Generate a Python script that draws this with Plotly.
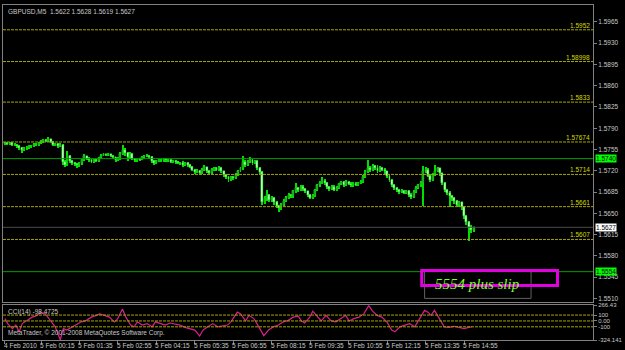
import plotly.graph_objects as go

# ---------------- data ----------------
bar_index = list(range(196))

closes = [1.5765,1.5764,1.5766,1.5762,1.5763,1.5760,1.5758,1.5754,1.5757,1.5758,
          1.5760,1.5761,1.5763,1.5762,1.5765,1.5768,1.5770,1.5769,1.5772,1.5768,
          1.5762,1.5764,1.5761,1.5763,1.5735,1.5730,1.5745,1.5736,1.5733,1.5731,
          1.5729,1.5732,1.5738,1.5744,1.5740,1.5737,1.5735,1.5738,1.5736,1.5741,
          1.5745,1.5747,1.5746,1.5747,1.5745,1.5742,1.5738,1.5740,1.5748,1.5755,
          1.5750,1.5742,1.5748,1.5740,1.5737,1.5739,1.5738,1.5742,1.5744,1.5745,
          1.5743,1.5736,1.5733,1.5735,1.5738,1.5737,1.5739,1.5737,1.5738,1.5735,
          1.5736,1.5734,1.5733,1.5732,1.5730,1.5733,1.5729,1.5727,1.5722,1.5718,
          1.5720,1.5717,1.5722,1.5726,1.5720,1.5717,1.5721,1.5724,1.5722,1.5725,
          1.5719,1.5713,1.5710,1.5706,1.5710,1.5708,1.5714,1.5720,1.5724,1.5735,
          1.5730,1.5735,1.5738,1.5733,1.5736,1.5725,1.5718,1.5668,1.5675,1.5680,
          1.5672,1.5676,1.5668,1.5662,1.5658,1.5664,1.5670,1.5676,1.5680,1.5678,
          1.5686,1.5692,1.5688,1.5694,1.5690,1.5686,1.5680,1.5676,1.5679,1.5688,
          1.5696,1.5700,1.5704,1.5700,1.5693,1.5690,1.5694,1.5689,1.5692,1.5698,
          1.5701,1.5697,1.5702,1.5699,1.5696,1.5699,1.5697,1.5700,1.5702,1.5710,
          1.5718,1.5725,1.5722,1.5728,1.5724,1.5720,1.5725,1.5722,1.5719,1.5712,
          1.5705,1.5697,1.5692,1.5688,1.5685,1.5687,1.5684,1.5686,1.5680,1.5677,
          1.5685,1.5692,1.5696,1.5700,1.5720,1.5722,1.5712,1.5705,1.5714,1.5720,
          1.5724,1.5716,1.5700,1.5688,1.5684,1.5678,1.5675,1.5670,1.5664,1.5668,
          1.5660,1.5645,1.5635,1.5628,1.5622,1.5627]

opens = [1.5764,1.5765,1.5764,1.5766,1.5762,1.5763,1.5760,1.5758,1.5754,1.5757,
         1.5758,1.5760,1.5761,1.5763,1.5762,1.5765,1.5768,1.5770,1.5769,1.5772,
         1.5768,1.5762,1.5764,1.5761,1.5763,1.5735,1.5730,1.5745,1.5736,1.5733,
         1.5731,1.5729,1.5732,1.5738,1.5744,1.5740,1.5737,1.5735,1.5738,1.5736,
         1.5741,1.5745,1.5747,1.5746,1.5747,1.5745,1.5742,1.5738,1.5740,1.5748,
         1.5755,1.5750,1.5742,1.5748,1.5740,1.5737,1.5739,1.5738,1.5742,1.5744,
         1.5745,1.5743,1.5736,1.5733,1.5735,1.5738,1.5737,1.5739,1.5737,1.5738,
         1.5735,1.5736,1.5734,1.5733,1.5732,1.5730,1.5733,1.5729,1.5727,1.5722,
         1.5718,1.5720,1.5717,1.5722,1.5726,1.5720,1.5717,1.5721,1.5724,1.5722,
         1.5725,1.5719,1.5713,1.5710,1.5706,1.5710,1.5708,1.5714,1.5720,1.5724,
         1.5735,1.5730,1.5735,1.5738,1.5733,1.5736,1.5725,1.5718,1.5668,1.5675,
         1.5680,1.5672,1.5676,1.5668,1.5662,1.5658,1.5664,1.5670,1.5676,1.5680,
         1.5678,1.5686,1.5692,1.5688,1.5694,1.5690,1.5686,1.5680,1.5676,1.5679,
         1.5688,1.5696,1.5700,1.5704,1.5700,1.5693,1.5690,1.5694,1.5689,1.5692,
         1.5698,1.5701,1.5697,1.5702,1.5699,1.5696,1.5699,1.5697,1.5700,1.5702,
         1.5710,1.5718,1.5725,1.5722,1.5728,1.5724,1.5720,1.5725,1.5722,1.5719,
         1.5712,1.5705,1.5697,1.5692,1.5688,1.5685,1.5687,1.5684,1.5686,1.5680,
         1.5677,1.5685,1.5692,1.5696,1.5700,1.5720,1.5722,1.5712,1.5705,1.5714,
         1.5720,1.5724,1.5716,1.5700,1.5688,1.5684,1.5678,1.5675,1.5670,1.5664,
         1.5668,1.5660,1.5645,1.5635,1.5628,1.5622]

highs = [1.5767,1.5767,1.5768,1.5767,1.5765,1.5764,1.5762,1.5759,1.5759,1.5760,
         1.5762,1.5763,1.5765,1.5765,1.5767,1.5770,1.5772,1.5772,1.5775,1.5773,
         1.5769,1.5766,1.5765,1.5765,1.5764,1.5737,1.5752,1.5746,1.5738,1.5735,
         1.5733,1.5734,1.5740,1.5748,1.5745,1.5742,1.5739,1.5740,1.5740,1.5743,
         1.5747,1.5749,1.5748,1.5749,1.5748,1.5746,1.5743,1.5742,1.5751,1.5763,
         1.5757,1.5751,1.5751,1.5749,1.5741,1.5741,1.5741,1.5744,1.5746,1.5747,
         1.5746,1.5744,1.5737,1.5737,1.5740,1.5740,1.5741,1.5740,1.5740,1.5739,
         1.5738,1.5737,1.5736,1.5735,1.5736,1.5735,1.5734,1.5731,1.5728,1.5723,
         1.5723,1.5721,1.5725,1.5729,1.5727,1.5721,1.5724,1.5727,1.5726,1.5728,
         1.5726,1.5720,1.5715,1.5711,1.5712,1.5712,1.5716,1.5722,1.5727,1.5744,
         1.5738,1.5737,1.5742,1.5739,1.5738,1.5737,1.5726,1.5719,1.5678,1.5688,
         1.5682,1.5679,1.5677,1.5670,1.5664,1.5667,1.5673,1.5679,1.5684,1.5682,
         1.5689,1.5700,1.5694,1.5697,1.5696,1.5692,1.5687,1.5682,1.5682,1.5690,
         1.5699,1.5703,1.5709,1.5706,1.5701,1.5695,1.5697,1.5696,1.5695,1.5700,
         1.5704,1.5703,1.5705,1.5704,1.5701,1.5701,1.5701,1.5702,1.5705,1.5713,
         1.5722,1.5737,1.5728,1.5731,1.5730,1.5729,1.5728,1.5727,1.5724,1.5720,
         1.5713,1.5707,1.5699,1.5694,1.5690,1.5690,1.5689,1.5689,1.5688,1.5683,
         1.5688,1.5695,1.5699,1.5703,1.5728,1.5726,1.5724,1.5714,1.5717,1.5730,
         1.5727,1.5725,1.5717,1.5702,1.5690,1.5686,1.5680,1.5677,1.5672,1.5671,
         1.5669,1.5661,1.5647,1.5638,1.5630,1.5628]

lows = [1.5762,1.5762,1.5763,1.5760,1.5760,1.5758,1.5755,1.5750,1.5752,1.5755,
        1.5756,1.5758,1.5759,1.5760,1.5760,1.5764,1.5766,1.5767,1.5768,1.5766,
        1.5760,1.5760,1.5758,1.5759,1.5730,1.5726,1.5728,1.5733,1.5730,1.5728,
        1.5724,1.5727,1.5730,1.5736,1.5737,1.5734,1.5732,1.5733,1.5734,1.5735,
        1.5740,1.5744,1.5744,1.5744,1.5743,1.5740,1.5735,1.5736,1.5738,1.5746,
        1.5745,1.5736,1.5740,1.5737,1.5734,1.5735,1.5736,1.5737,1.5740,1.5742,
        1.5740,1.5733,1.5729,1.5731,1.5734,1.5735,1.5735,1.5735,1.5735,1.5733,
        1.5733,1.5731,1.5731,1.5729,1.5727,1.5728,1.5726,1.5724,1.5719,1.5714,
        1.5716,1.5713,1.5715,1.5720,1.5717,1.5714,1.5715,1.5719,1.5719,1.5720,
        1.5716,1.5710,1.5707,1.5702,1.5704,1.5705,1.5706,1.5712,1.5718,1.5722,
        1.5727,1.5728,1.5733,1.5730,1.5731,1.5722,1.5714,1.5664,1.5665,1.5670,
        1.5668,1.5669,1.5664,1.5658,1.5652,1.5655,1.5662,1.5668,1.5674,1.5675,
        1.5676,1.5684,1.5685,1.5686,1.5687,1.5683,1.5677,1.5673,1.5674,1.5677,
        1.5686,1.5694,1.5698,1.5697,1.5690,1.5686,1.5688,1.5686,1.5687,1.5690,
        1.5696,1.5694,1.5695,1.5696,1.5693,1.5694,1.5695,1.5695,1.5698,1.5700,
        1.5708,1.5716,1.5718,1.5719,1.5721,1.5717,1.5718,1.5719,1.5715,1.5708,
        1.5701,1.5694,1.5688,1.5685,1.5682,1.5683,1.5681,1.5682,1.5677,1.5674,
        1.5675,1.5683,1.5690,1.5694,1.5662,1.5716,1.5709,1.5701,1.5703,1.5712,
        1.5718,1.5712,1.5697,1.5685,1.5680,1.5660,1.5671,1.5666,1.5660,1.5661,
        1.5656,1.5641,1.5630,1.5605,1.5618,1.5619]

cci_bar = [0,1.1,3.1,4.5,5.9,7.2,9.3,11.3,13.4,14.8,16.8,18.9,20.9,23.0,24.3,25.7,27.7,29.8,
           31.8,33.9,35.9,38.0,39.3,41.4,43.4,45.5,46.9,48.9,50.3,52.3,53.7,55.1,57.1,59.2,
           61.2,62.6,64.6,66.7,68.7,70.8,72.8,74.9,76.9,79.0,81.0,82.4,84.4,86.5,88.5,90.6,
           92.6,94.0,95.4,96.7,98.1,100.1,101.5,103.6,105.6,107.7,109.7,111.7,113.8,115.8,
           117.9,119.9,122.0,123.4,124.7,126.8,128.1,129.5,131.6,133.6,135.7,137.7,139.8,
           141.8,143.2,145.2,147.3,149.3,151.4,152.7,154.8,156.8,158.9,160.9,162.3,164.3,
           166.4,168.4,170.5,172.5,174.6,176.0,177.3,178.7,180.7,182.8,184.8,186.9,188.9,
           191.0,193.0,194.4]
cci_val = [40,-45,-130,-70,-185,-45,10,65,95,150,120,0,-100,-320,-130,-155,-110,-70,
           -15,10,65,95,120,95,65,-15,40,205,65,-70,-100,-15,-70,-45,
           -100,-15,-45,-70,-35,-55,-70,-110,-130,-155,-255,-155,-100,-45,-100,-90,
           -70,-15,65,150,120,0,95,40,-100,-250,-155,-100,-70,-15,
           10,65,80,0,-35,65,165,95,0,95,0,-15,40,
           95,0,40,65,120,262,180,95,65,-15,-155,-185,-100,
           -70,-45,-100,40,180,150,95,180,40,-100,-110,-90,-110,
           -130,-110,-98]

level_prices = [1.5952, 1.58998, 1.5833, 1.57674, 1.5714, 1.5661, 1.5607]
level_labels = ["1.5952", "1.58998", "1.5833", "1.57674", "1.5714", "1.5661", "1.5607"]
green_levels = [1.5740, 1.5554]
green_labels = ["1.5740", "1.5554"]
bid_price = 1.5627
bid_label = "1.5627"

price_ticks = [1.5965, 1.5930, 1.5895, 1.5860, 1.5825, 1.5790, 1.5755,
               1.5720, 1.5685, 1.5650, 1.5615, 1.5580, 1.5545, 1.5510]
time_tick_idx = [0, 15, 31, 47, 63, 79, 95, 111, 127, 143, 159, 175, 191]
time_tick_text = ["4 Feb 2010", "5 Feb 00:15", "5 Feb 01:35", "5 Feb 02:55", "5 Feb 04:15",
                  "5 Feb 05:35", "5 Feb 06:55", "5 Feb 08:15", "5 Feb 09:35", "5 Feb 10:55",
                  "5 Feb 12:15", "5 Feb 13:35", "5 Feb 14:55"]
cci_ticks = [266.43, 100, 0, -100, -324.141]
cci_tick_text = ["266.43", "100", "0.00", "-100", "-324.141"]

# ---------------- styling ----------------
BG = "#000000"
FG = "#c8c8c8"
GRID = "#808080"
YEL = "#a6a600"
FONT = "Liberation Sans"
BULL = "#2f9a2f"
BEAR = "#c8ffc8"
WICK = "#00e000"

fig = go.Figure()

# wicks (high-low range) and bodies (open-close range), drawn as floating bars
fig.add_trace(go.Bar(
    x=bar_index, base=lows, y=[h - l for h, l in zip(highs, lows)],
    width=0.4, marker=dict(color=WICK, line=dict(width=0)),
    xaxis="x", yaxis="y", showlegend=False, hoverinfo="skip"))
fig.add_trace(go.Bar(
    x=bar_index, base=[min(o, c) for o, c in zip(opens, closes)],
    y=[max(abs(c - o), 0.00006) for o, c in zip(opens, closes)],
    width=0.8,
    marker=dict(color=[BULL if c >= o else BEAR for o, c in zip(opens, closes)],
                line=dict(color=WICK, width=0.4)),
    xaxis="x", yaxis="y", showlegend=False, hoverinfo="skip"))

fig.add_trace(go.Scatter(
    x=cci_bar, y=cci_val, mode="lines",
    line=dict(color="#d8208e", width=1.2),
    xaxis="x2", yaxis="y2", showlegend=False, hoverinfo="skip"))

shapes = []
annotations = []

for p, lab in zip(level_prices, level_labels):
    shapes.append(dict(type="line", xref="paper", yref="y", x0=0, x1=1, y0=p, y1=p,
                       line=dict(color=YEL, width=1, dash="3px,1px")))
    annotations.append(dict(xref="paper", yref="y", x=1, y=p, text=lab, showarrow=False,
                            xanchor="right", yanchor="bottom", xshift=-1, yshift=-1,
                            font=dict(family=FONT, size=6.5, color="#d8d800")))

for p in green_levels:
    shapes.append(dict(type="line", xref="paper", yref="y", x0=0, x1=1, y0=p, y1=p,
                       line=dict(color="#00a000", width=1)))
shapes.append(dict(type="line", xref="paper", yref="y", x0=0, x1=1, y0=bid_price, y1=bid_price,
                   line=dict(color="#4a4a4a", width=1)))

for p, lab in zip(green_levels, green_labels):
    annotations.append(dict(xref="paper", yref="y", x=1, y=p, text=lab, showarrow=False,
                            xanchor="left", yanchor="middle", xshift=2,
                            bgcolor="#00ff00", borderpad=0,
                            font=dict(family=FONT, size=6.5, color="#000000")))
annotations.append(dict(xref="paper", yref="y", x=1, y=bid_price, text=bid_label, showarrow=False,
                        xanchor="left", yanchor="middle", xshift=2,
                        bgcolor="#ffffff", borderpad=0,
                        font=dict(family=FONT, size=6.5, color="#000000")))

# CCI reference levels
for v in [100, 0, -100]:
    shapes.append(dict(type="line", xref="paper", yref="y2", x0=0, x1=1, y0=v, y1=v,
                       line=dict(color=YEL, width=1, dash="3px,1px")))

# hand-drawn objects
shapes.append(dict(type="rect", xref="x", yref="y", x0=174.6, x1=218.9, y0=1.55100, y1=1.55557,
                   line=dict(color="#606060", width=1)))
shapes.append(dict(type="rect", xref="x", yref="y", x0=173.4, x1=229.9, y0=1.55312, y1=1.55557,
                   line=dict(color="#e000e0", width=3)))
annotations.append(dict(xref="x", yref="y", x=196.7, y=1.55345, text="<i>5554 plus slip</i>",
                        showarrow=False, xanchor="center", yanchor="middle",
                        font=dict(family="Liberation Serif", size=15, color="#7cff2a")))

# texts
annotations.append(dict(xref="paper", yref="paper", x=0, y=1, text="GBPUSD,M5  1.5622 1.5628 1.5619 1.5627",
                        showarrow=False, xanchor="left", yanchor="top", xshift=3, yshift=-1,
                        font=dict(family=FONT, size=6.5, color=FG)))
annotations.append(dict(xref="paper", yref="paper", x=0, y=0.1036, text="CCI(14) -98.4725",
                        showarrow=False, xanchor="left", yanchor="top", xshift=3, yshift=-1,
                        font=dict(family=FONT, size=6.5, color=FG)))
annotations.append(dict(xref="paper", yref="paper", x=0, y=0, text="MetaTrader, © 2001-2008 MetaQuotes Software Corp.",
                        showarrow=False, xanchor="left", yanchor="bottom", xshift=3, yshift=1,
                        font=dict(family=FONT, size=6.5, color=FG)))

for idx, txt in zip(time_tick_idx, time_tick_text):
    annotations.append(dict(xref="x2", yref="paper", x=idx, y=0, text=txt, showarrow=False,
                            xanchor="left", yanchor="top", xshift=-3, yshift=0,
                            font=dict(family=FONT, size=6.5, color=FG)))

XR = [-0.82, 244.67]
fig.update_layout(
    width=625, height=350,
    margin=dict(l=2, r=24, t=2, b=10),
    paper_bgcolor=BG, plot_bgcolor=BG,
    barmode="overlay", bargap=0,
    shapes=shapes, annotations=annotations,
    xaxis=dict(domain=[0, 1], anchor="y", range=XR, showgrid=False, zeroline=False,
               showticklabels=False,
               showline=True, linecolor=GRID, mirror=True, ticks=""),
    yaxis=dict(domain=[0.1124, 1], anchor="x", side="right", range=[1.55035, 1.59928],
               showgrid=False, zeroline=False, tickvals=price_ticks,
               ticktext=[f"{v:.4f}" for v in price_ticks],
               ticks="outside", ticklen=3, tickcolor=GRID,
               tickfont=dict(family=FONT, size=6.5, color=FG),
               showline=True, linecolor=GRID, mirror=True),
    xaxis2=dict(domain=[0, 1], anchor="y2", range=XR, matches="x", showgrid=False, zeroline=False,
                tickvals=time_tick_idx, ticktext=[""] * len(time_tick_idx),
                ticks="outside", ticklen=3, tickcolor=GRID,
                showline=True, linecolor=GRID, mirror=True),
    yaxis2=dict(domain=[0, 0.1036], anchor="x2", side="right", range=[-324.141, 266.43],
                showgrid=False, zeroline=False, tickvals=cci_ticks, ticktext=cci_tick_text,
                ticks="outside", ticklen=3, tickcolor=GRID,
                tickfont=dict(family=FONT, size=6, color=FG),
                showline=True, linecolor=GRID, mirror=True),
)

fig.write_html("out.html")
